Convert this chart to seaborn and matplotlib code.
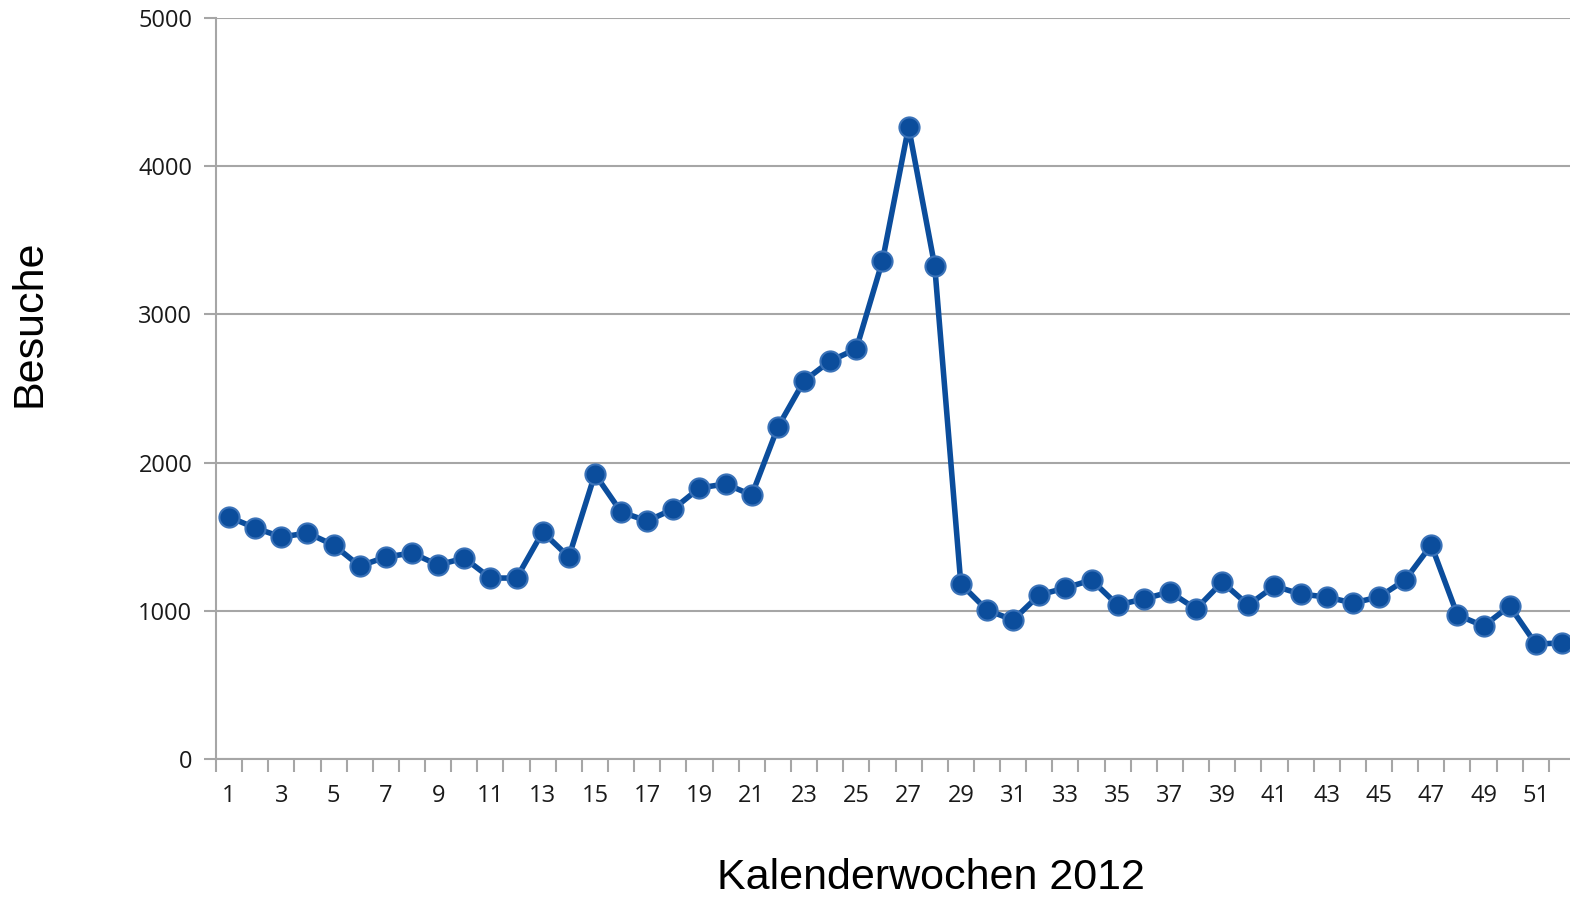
import matplotlib
matplotlib.use("Agg")
import matplotlib.pyplot as plt
import seaborn as sns
import pandas as pd

weeks = list(range(1, 53))
visits = [1633, 1559, 1498, 1525, 1444, 1302, 1363, 1390, 1309, 1356,
          1221, 1221, 1532, 1363, 1923, 1667, 1606, 1687, 1829, 1856,
          1781, 2240, 2551, 2686, 2767, 3360, 4265, 3327, 1181, 1005,
          938, 1107, 1154, 1208, 1039, 1080, 1127, 1012, 1194, 1039,
          1167, 1113, 1093, 1053, 1093, 1208, 1444, 972, 897, 1032,
          776, 783]
y_ticks = [0, 1000, 2000, 3000, 4000, 5000]
x_labels = [str(w) for w in range(1, 53, 2)]

df = pd.DataFrame({"Woche": weeks, "Besuche": visits})

sns.set_theme(style="white")
fig = plt.figure(figsize=(15.7, 8.97), dpi=100)
ax = fig.add_axes([216/1570, 1-759/897, (1575-216)/1570, (759-18)/897])

sns.lineplot(data=df, x="Woche", y="Besuche", ax=ax, color="#0B4D9C",
             linewidth=4, marker="o", markersize=14.5,
             markerfacecolor="#0B4D9C", markeredgecolor="#3A72B8",
             markeredgewidth=1.5, clip_on=False, zorder=5)

ax.set_xlim(0.5, 52.5)
ax.set_ylim(0, 5000)
ax.set_yticks(y_ticks)
ax.set_yticklabels([str(v) for v in y_ticks])
ax.yaxis.grid(True, color="#A6A6A6", linewidth=1.5)
ax.set_axisbelow(True)

ax.set_xticks(range(1, 53, 2))
ax.set_xticklabels(x_labels)
ax.set_xticks([w + 0.5 for w in range(0, 53)], minor=True)
ax.tick_params(axis="x", which="major", length=0, pad=18, labelsize=17, colors="#000000")
ax.tick_params(axis="x", which="minor", length=9, width=1.5, color="#A6A6A6", direction="out", bottom=True)
ax.tick_params(axis="y", length=9, width=1.5, color="#A6A6A6", direction="out", left=True, pad=8, labelsize=17)
for lab in ax.get_xticklabels() + ax.get_yticklabels():
    lab.set_fontfamily("Open Sans")
    lab.set_color("#1a1a1a")

for s in ["top", "right"]:
    ax.spines[s].set_visible(False)
for s in ["left", "bottom"]:
    ax.spines[s].set_color("#A6A6A6")
    ax.spines[s].set_linewidth(1.5)

ax.set_xlabel("")
ax.set_ylabel("")
fig.text(30/1570, 1-323/897, "Besuche", rotation=90, ha="center", va="center",
         fontsize=31, family="Liberation Sans", color="#000000")
fig.text(931/1570, 1-878/897, "Kalenderwochen 2012", ha="center", va="center",
         fontsize=31, family="Liberation Sans", color="#000000")

fig.savefig("out.png", dpi=100)
